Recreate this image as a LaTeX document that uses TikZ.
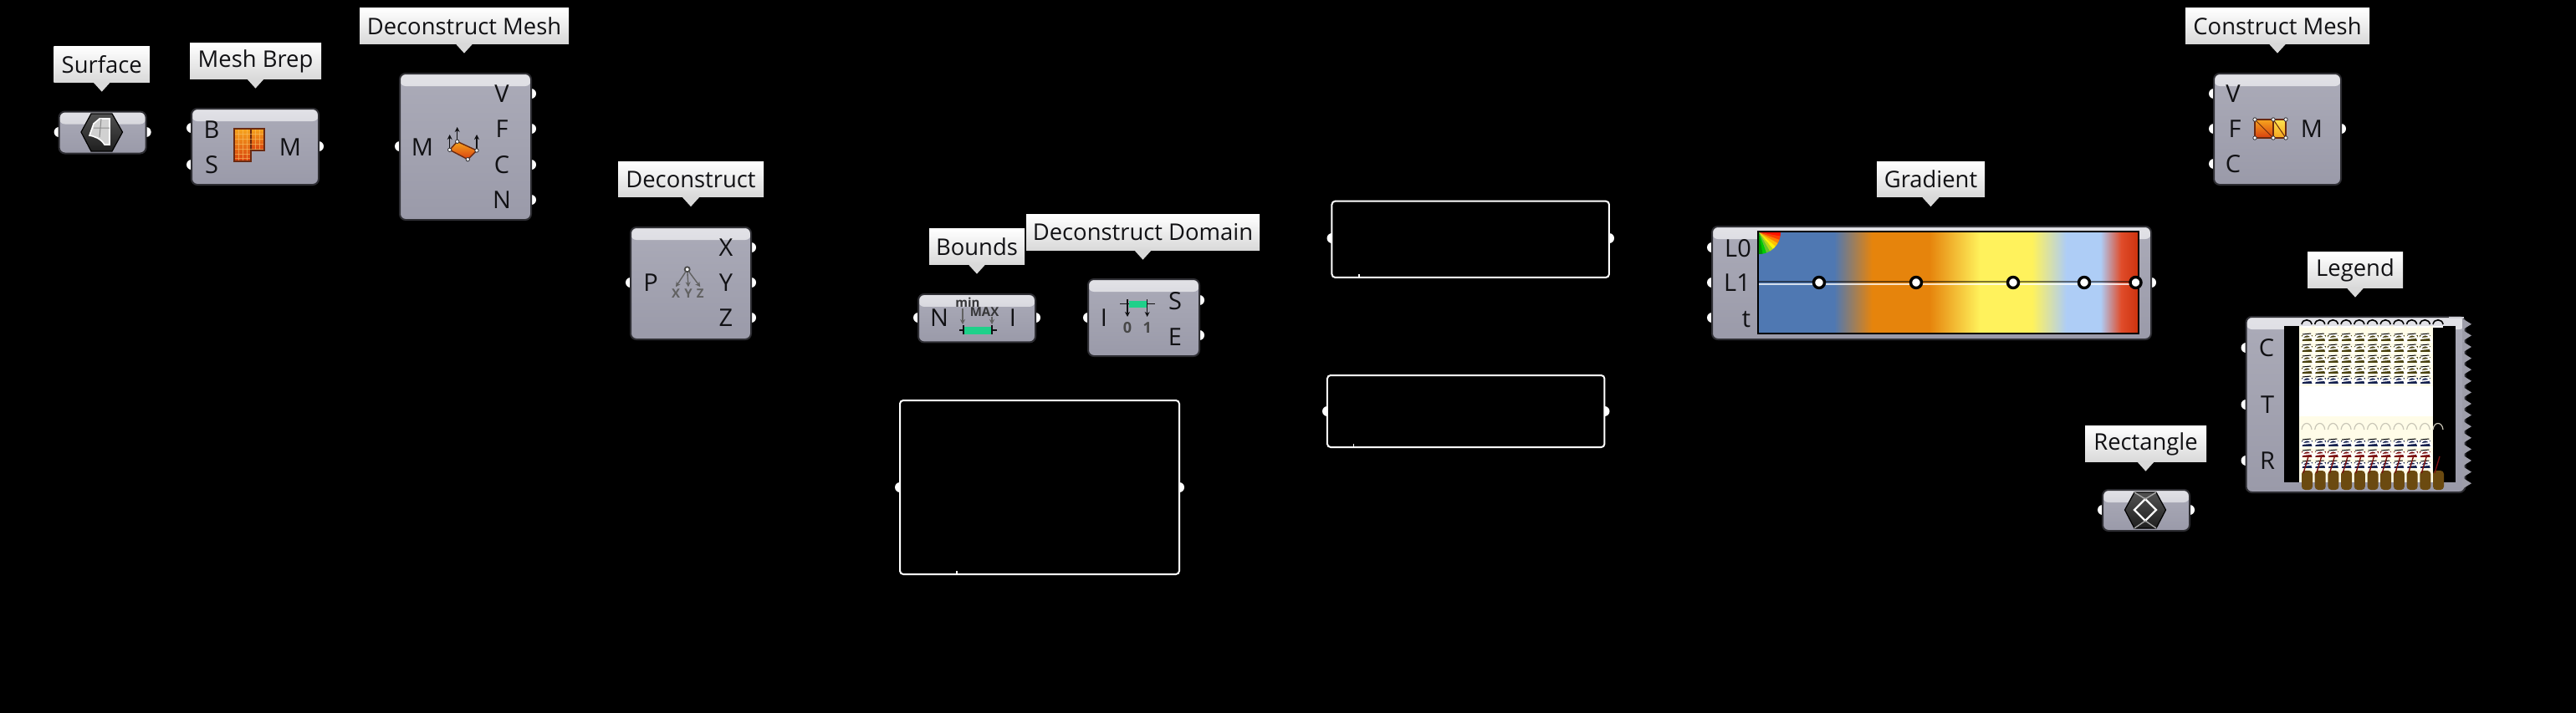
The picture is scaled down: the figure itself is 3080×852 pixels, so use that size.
\documentclass[tikz,border=0pt]{standalone}
\usepackage{fontspec}
\setmainfont{Open Sans}
\usepackage{xcolor}
\definecolor{canvas}{HTML}{000000}
\definecolor{ink}{HTML}{111114}
\definecolor{edge}{HTML}{2E2E33}
\definecolor{bodytop}{HTML}{ABABB8}
\definecolor{bodylow}{HTML}{9A9AA9}
\definecolor{striptop}{HTML}{E2E2E7}
\definecolor{striplow}{HTML}{BCBCC6}
\definecolor{tipshade}{HTML}{D9D9D9}
\definecolor{gblue}{HTML}{4F78B2}
\definecolor{gorange}{HTML}{E6840C}
\definecolor{gyellow}{HTML}{FFF25C}
\definecolor{gsky}{HTML}{AECDF6}
\definecolor{gred}{HTML}{CC320E}
\definecolor{gredl}{HTML}{E04C2A}
\definecolor{mint}{HTML}{1FD08A}
\definecolor{meshhi}{HTML}{F6A51E}
\definecolor{meshlo}{HTML}{D8400F}
\definecolor{meshline}{HTML}{6B2A10}
\definecolor{olive}{HTML}{4A4210}
\definecolor{navyb}{HTML}{14204E}
\definecolor{brownb}{HTML}{6B4A10}
\definecolor{redb}{HTML}{7A1010}
\definecolor{cream}{HTML}{FFFCE8}
\usetikzlibrary{arrows.meta}
\pgfdeclarehorizontalshading{gradbar}{100bp}{color(0bp)=(gblue); color(25bp)=(gblue); color(35bp)=(gblue);
  color(40bp)=(gorange); color(47.5bp)=(gorange); color(54.2bp)=(gyellow); color(61bp)=(gyellow);
  color(65.5bp)=(gsky); color(70bp)=(gsky); color(72.7bp)=(gredl); color(75bp)=(gred); color(100bp)=(gred)}
\tikzset{
  wh/.style 2 args={minimum width=#1*0.5pt,minimum height=#2*0.5pt},
  comp/.style={draw=edge,line width=1pt,rounded corners=3.5pt,inner sep=0pt,top color=bodytop,bottom color=bodylow,
    path picture={\shade[top color=striptop,bottom color=striplow] (path picture bounding box.north west)
      rectangle ([yshift=-7.5pt]path picture bounding box.north east);}},
  panel/.style={draw=white,line width=1pt,fill=black,rounded corners=2pt,inner sep=0pt},
  tipbox/.style={top color=white,bottom color=tipshade,font=\fontsize{13.7}{15}\selectfont,text=ink,inner sep=0pt,minimum height=21.25pt},
  pin/.style={font=\fontsize{14.5}{15}\selectfont,text=ink,inner sep=0pt},
  port/.style={circle,fill=white,inner sep=0pt,minimum size=6pt},
  grip/.style={circle,draw=black,line width=1.7pt,fill=white,inner sep=0pt,minimum size=6.5pt},
  vert/.style={circle,draw=edge,line width=0.4pt,fill=white,inner sep=0pt,minimum size=2.2pt},
  icontxt/.style={font=\fontsize{7.5}{8}\selectfont\bfseries,text=#1,inner sep=0pt},
  meshfill/.style={draw=meshline,line width=0.7pt,top color=meshhi,bottom color=meshlo},
  hexdark/.style={draw=black,line width=0.6pt,top color=black!68,bottom color=black!88},
  upar/.style={-{Stealth[length=3pt,width=3pt]},draw=#1,line width=0.7pt},
  upar/.default=ink,
}
\begin{document}
\begin{tikzpicture}[x=0.5pt,y=-0.5pt]
  \useasboundingbox (0,0) rectangle (3080,852);
  \fill[canvas] (-10,-10) rectangle (3090,862);
  % tooltips
  \foreach \n/\x/\w/\y/\t in {a/121.7/114.5/77/Surface,b/305.5/157/73/Mesh Brep,c/555/250/31/Deconstruct Mesh,
    d/826/174/214.5/Deconstruct,e/1168/114/295/Bounds,f/1366.5/279/278/Deconstruct Domain,g/2308.5/129/214.5/Gradient,
    h/2723/220/31/Construct Mesh,i/2816/114/323/Legend,j/2565.5/145/531/Rectangle} {
    \node[tipbox,minimum width=\w*0.5pt] (tip\n) at (\x,\y) {\t};
    \fill[tipshade] ([xshift=-5pt]tip\n.south) -- ([xshift=5pt]tip\n.south) -- ([yshift=-5.5pt]tip\n.south) -- cycle;
  }
  % ports go under the boxes
  \foreach \x/\y [count=\i] in {70.6/158,174.7/158,229/153,229/197,381/175,478/175,635/112,635/154,635/197,635/239,
    754/338,898/296,898/338,898/380,1098/380,1238/380,1301/380,1434/359,1434/401,1076/583,1410/583,1592.5/285,1924/285,
    1587/492,1918.5/492,2047/296,2047/338,2047/380,2572/338,2647/112,2647/154,2647/196,2799/154,
    2685.5/416,2685.5/484,2685.5/551,2514/610,2618/610}
    \node[port] (port\i) at (\x,\y) {};
  \node[comp,wh={104}{50}] (surface) at (122.6,158.5) {};
  \node[comp,wh={152}{91}] (brep) at (305,175.5) {};
  \node[comp,wh={157}{175}] (dmesh) at (556.5,175.5) {};
  \node[comp,wh={144}{134}] (dec) at (826,339) {};
  \node[comp,wh={140}{57.5}] (bounds) at (1168,380.7) {};
  \node[comp,wh={133}{92}] (ddom) at (1367.5,380) {};
  \node[comp,wh={525}{135}] (grad) at (2309.5,338.5) {};
  \node[comp,wh={152}{133}] (cmesh) at (2723,154.5) {};
  \node[comp,wh={104}{49}] (rect) at (2566,610.5) {};
  \node[comp,wh={262}{210}] (legend) at (2816.5,484) {};
  \node[panel,wh={334}{208}] (panela) at (1243,583) {};
  \node[panel,wh={331.5}{91.3}] (panelb) at (1758.2,286.3) {};
  \node[panel,wh={331.5}{86}] (panelc) at (1752.7,492) {};
  \draw[white,line width=0.6pt] (1144,683) -- (1144,687);
  \draw[white,line width=0.6pt] (1625,328) -- (1625,332);
  \draw[white,line width=0.6pt] (1618.5,531) -- (1618.5,535);
  % pin letters
  \foreach \n/\x/\y/\t in {pa/253/155/B,pb/253/197/S,pc/347/176/M,pd/505/176/M,pe/600/112/V,pf/600/154/F,pg/600/197/C,ph/600/239/N,
    pi/778/338/P,pj/868/296/X,pk/868/338/Y,pl/868/380/Z,pm/1123/380/N,pn/1211/380/I,po/1320/380/I,pp/1405/360/S,pq/1405/403/E,
    pr/2078/297/L0,ps/2077/338/L1,pt/2088/382/t,pu/2670/112/V,pv/2672/154/F,pw/2670/196/C,px/2764/154/M,
    py/2710/416/C,pz/2711/484/T,pzz/2711/551/R}
    \node[pin] (\n) at (\x,\y) {\t};
  % surface and rectangle icons
  \draw[hexdark] (97,158) -- (109,136) -- (134,136) -- (146.5,158) -- (134,181) -- (109,181) -- cycle;
  \draw[draw=white,line width=0.8pt,fill=black!18] (112,148) -- (119,142) -- (131,142) -- (131,173) -- (125,173) .. controls (120,165) and (112,163) .. (107,162) -- cycle;
  \draw[black!45,line width=0.5pt] (121,142) -- (119,164) (112,153) -- (131,153);
  \draw[hexdark] (2540.5,610) -- (2552,589) -- (2578,589) -- (2589.5,610) -- (2578,632) -- (2552,632) -- cycle;
  \draw[white,line width=1.1pt] (2565,597) -- (2578,610) -- (2565,623) -- (2552,610) -- cycle;
  \draw[black!35,line width=0.7pt] (2552,589) -- (2565,597) (2578,589) -- (2565,597) (2552,632) -- (2565,623) (2578,632) -- (2565,623);
  % mesh icons
  \draw[meshfill] (280,154) rectangle (300,193);
  \draw[meshfill] (300,154) rectangle (316,180);
  \foreach \g in {285,290,295,305,310} \draw[meshhi!70!white,line width=0.25pt,opacity=.6] (\g,155) -- (\g,{\g<300?192:179});
  \foreach \g in {160,166,172,178} \draw[meshhi!70!white,line width=0.25pt,opacity=.6] (281,\g) -- (315,\g);
  \foreach \g in {184,189} \draw[meshhi!70!white,line width=0.25pt,opacity=.6] (281,\g) -- (299,\g);
  \draw[meshfill,rounded corners=1pt] (537.7,179.3) -- (546.7,169.3) -- (570,180) -- (559.3,190.7) -- cycle;
  \draw[upar] (537.7,179.3) -- (537.7,161);
  \draw[upar] (546.7,169.3) -- (546.7,152);
  \draw[upar] (570,180) -- (570,161);
  \node[vert] (va) at (537.7,179.3) {};
  \node[vert] (vb) at (546.7,169.3) {};
  \node[vert] (vc) at (570,180) {};
  \node[vert] (vd) at (559.3,190.7) {};
  \draw[meshline,line width=0.7pt,top color=meshhi,bottom color=meshlo] (2696,143) rectangle (2718,165);
  \draw[meshline,line width=0.7pt,top color=gyellow!80!meshhi,bottom color=meshhi] (2718,143) rectangle (2733,165);
  \draw[meshline,line width=0.5pt] (2696,143) -- (2718,165) (2718,143) -- (2733,165);
  \foreach \x/\y [count=\i] in {2696/143,2718/143,2733/143,2696/165,2718/165,2733/165} \node[vert] (vm\i) at (\x,\y) {};
  % xyz icon
  \node[circle,draw=black!70,line width=0.9pt,fill=white,inner sep=0pt,minimum size=3pt] (xyzo) at (821.7,322.3) {};
  \node[icontxt=black!62] (xyzx) at (808,351) {X};
  \node[icontxt=black!62] (xyzy) at (823,351) {Y};
  \node[icontxt=black!62] (xyzz) at (837.3,351) {Z};
  \foreach \k in {x,y,z} \draw[upar=black!62] (xyzo) -- ([yshift=1pt]xyz\k.north);
  % domain icons
  \draw[ink,line width=0.6pt] (1147,395) -- (1192,395) (1152,389) -- (1152,400) (1186,389) -- (1186,400);
  \fill[mint] (1153.3,390.5) rectangle (1185,399.5);
  \node[icontxt=ink!85] (bmin) at (1157,362) {min};
  \node[icontxt=ink!85] (bmax) at (1177,372.7) {MAX};
  \draw[upar=black!62] (1151,369) -- (1151,388);
  \draw[upar=black!62] (1186,379) -- (1186,388);
  \draw[ink,line width=0.6pt] (1339,363.5) -- (1381,363.5);
  \fill[mint] (1350,359.5) rectangle (1370.7,367.5);
  \draw[upar] (1348,358) -- (1348,379);
  \draw[upar] (1371.7,358) -- (1371.7,379);
  \node[icontxt=black!72,font=\fontsize{9}{10}\selectfont\bfseries] (dzero) at (1348,391.7) {0};
  \node[icontxt=black!72,font=\fontsize{9}{10}\selectfont\bfseries] (done) at (1371.7,391.7) {1};
  % gradient bar
  \shade[shading=gradbar] (2102,277) rectangle (2557,399);
  \draw[black,line width=1pt] (2102,277) rectangle (2557,399);
  \foreach \a/\c in {0/red!85!orange,10/red!50!orange,20/orange,30/orange!50!yellow,40/yellow,50/yellow!70!green,60/yellow!40!green,70/green!80!black,80/green!60!black} {
    \fill[\c] (2103,278) -- ({2103+26*cos(\a)},{278+26*sin(\a)}) -- ({2103+26*cos(\a+5)},{278+26*sin(\a+5)}) -- ({2103+26*cos(\a+10.5)},{278+26*sin(\a+10.5)}) -- cycle;
  }
  \draw[black,opacity=.5,line width=1pt] (2103,336.5) -- (2556,336.5);
  \draw[white,opacity=.75,line width=1pt] (2103,339.5) -- (2556,339.5);
  \foreach \x [count=\i] in {2175,2291,2407,2492,2553.5} \node[grip] (grip\i) at (\x,338) {};
  % legend: overprinted rows
  \fill[black] (2731,390) rectangle (2936,577);
  \fill[cream] (2749,390) rectangle (2909,577);
  \fill[white] (2749,462) rectangle (2909,498);
  \foreach \y/\c in {401/olive,414/olive,427/olive,440/olive,452/navyb,527/navyb,540/redb,553/navyb} {
    \foreach \k in {0,...,9} {
      \fill[\c] ({2752+15.7*\k},\y) rectangle ({2765+15.7*\k},{\y+7});
      \draw[white,line width=1.1pt] ({2751+15.7*\k},{\y+9}) .. controls ({2752+15.7*\k},{\y-4}) and ({2765+15.7*\k},{\y-4}) .. ({2766+15.7*\k},{\y+9});
      \draw[black,line width=0.5pt] ({2753+15.7*\k},{\y-1}) -- ({2763+15.7*\k},{\y-2});
      \draw[white,line width=0.9pt] ({2753+15.7*\k},{\y+4}) -- ({2763+15.7*\k},{\y+3});
    }
  }
  \foreach \k in {0,...,10} {
    \draw[black,line width=0.8pt] ({2752+15.7*\k},388) .. controls ({2753+15.7*\k},381) and ({2763+15.7*\k},381) .. ({2764+15.7*\k},388);
    \draw[white,line width=0.7pt] ({2752+15.7*\k},391) -- ({2764+15.7*\k},391);
    \draw[olive!30,line width=0.6pt] ({2752+15.7*\k},514) .. controls ({2753+15.7*\k},504) and ({2763+15.7*\k},504) .. ({2764+15.7*\k},514);
    \fill[brownb,rounded corners=2pt] ({2752+15.7*\k},563) rectangle ({2765+15.7*\k},586);
    \draw[redb,line width=0.7pt] ({2754+15.7*\k},566) -- ({2760+15.7*\k},546);
  }
  \foreach \i in {0,...,14} \fill[bodytop!92!black] (2944,{381+13.6*\i}) -- (2955,{387.8+13.6*\i}) -- (2944,{394.6+13.6*\i}) -- cycle;
  \draw[bodytop!60!white,line width=0.8pt] (2928,380) -- (2946,380);
\end{tikzpicture}
\end{document}
